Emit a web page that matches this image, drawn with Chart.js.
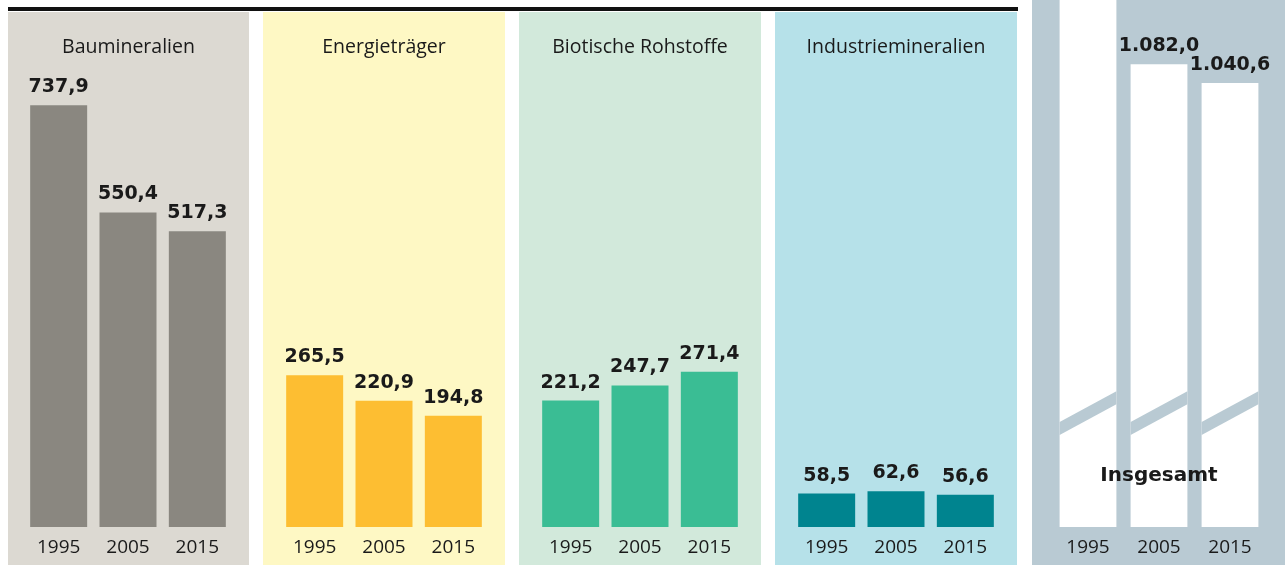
<!DOCTYPE html>
<html><head><meta charset="utf-8">
<script src="https://cdn.jsdelivr.net/npm/chart.js@4"></script>
<style>
html,body{margin:0;padding:0;background:#fff;width:1285px;height:565px;overflow:hidden;position:relative}
.bgpanel{position:absolute;bottom:0}
canvas{position:absolute;top:0}
</style></head><body>
<div style="position:absolute;left:8px;top:7px;width:1010px;height:4px;background:#111"></div>
<script>
// ---- data ----
const years = ['1995', '2005', '2015'];
const categories = ['Baumineralien', 'Energieträger', 'Biotische Rohstoffe', 'Industriemineralien', 'Insgesamt'];
const baumineralien = [737.9, 550.4, 517.3];
const energietraeger = [265.5, 220.9, 194.8];
const biotischeRohstoffe = [221.2, 247.7, 271.4];
const industriemineralien = [58.5, 62.6, 56.6];
const insgesamt = [1283.1, 1082.0, 1040.6];

// ---- layout / style ----
const panels = [
  {data: baumineralien, left: 8, width: 241, top: 12, bg: '#dcd9d2', bar: '#8a8780', padL: 16, padR: 17, min: 0, max: 922},
  {data: energietraeger, left: 263, width: 242, top: 12, bg: '#fef8c4', bar: '#fdbe32', padL: 17, padR: 17, min: 0, max: 922},
  {data: biotischeRohstoffe, left: 519, width: 242, top: 12, bg: '#d2e9db', bar: '#3abd94', padL: 17, padR: 17, min: 0, max: 922},
  {data: industriemineralien, left: 775, width: 242, top: 12, bg: '#b6e1e9', bar: '#00848f', padL: 17, padR: 17, min: 0, max: 922},
  {data: insgesamt, left: 1032, width: 253, top: 0, bg: '#b9cad3', bar: '#ffffff', padL: 20.5, padR: 19.5, min: 58, max: 1224, breakValue: 310, total: true}
];
const TEXT = '#1a1a1a';

function fmt(v) {
  const parts = v.toFixed(1).split('.');
  const intPart = parts[0].replace(/\B(?=(\d{3})+(?!\d))/g, '.');
  return intPart + ',' + parts[1];
}

const deco = {
  id: 'deco',
  afterDatasetsDraw(chart, args, opts) {
    const ctx = chart.ctx;
    const meta = chart.getDatasetMeta(0);
    const ys = chart.scales.y;
    const area = chart.chartArea;
    ctx.save();
    if (opts.breakValue != null) {
      const yc = ys.getPixelForValue(opts.breakValue);
      ctx.fillStyle = opts.bg;
      meta.data.forEach(b => {
        const w = b.width, L = b.x - w / 2, R = b.x + w / 2, rise = w * 0.54, th = 13;
        ctx.beginPath();
        ctx.moveTo(L, yc + rise / 2 - th / 2);
        ctx.lineTo(R, yc - rise / 2 - th / 2);
        ctx.lineTo(R, yc - rise / 2 + th / 2);
        ctx.lineTo(L, yc + rise / 2 + th / 2);
        ctx.closePath();
        ctx.fill();
      });
    }
    ctx.fillStyle = TEXT;
    ctx.textAlign = 'center';
    ctx.textBaseline = 'alphabetic';
    ctx.font = 'bold 19px "DejaVu Sans"';
    const vals = chart.data.datasets[0].data;
    meta.data.forEach((b, i) => {
      const y = b.y - 13;
      if (y < 18) return;
      ctx.fillText(fmt(vals[i]), b.x, y);
    });
    if (opts.total) {
      ctx.font = 'bold 20px "DejaVu Sans"';
      ctx.fillText(opts.title, (area.left + area.right) / 2, 481);
    } else {
      ctx.font = '19.5px "Open Sans"';
      ctx.fillText(opts.title, chart.width / 2, 53);
    }
    ctx.restore();
  }
};

panels.forEach((p, idx) => {
  const bg = document.createElement('div');
  bg.className = 'bgpanel';
  bg.style.left = p.left + 'px';
  bg.style.width = p.width + 'px';
  bg.style.top = p.top + 'px';
  bg.style.background = p.bg;
  document.body.appendChild(bg);

  const cv = document.createElement('canvas');
  cv.width = p.width;
  cv.height = 565;
  cv.style.left = p.left + 'px';
  cv.style.width = p.width + 'px';
  cv.style.height = '565px';
  document.body.appendChild(cv);

  new Chart(cv.getContext('2d'), {
    type: 'bar',
    data: {
      labels: years,
      datasets: [{
        data: p.data,
        backgroundColor: p.bar,
        borderWidth: 0,
        barPercentage: p.total ? 0.8 : 0.822,
        categoryPercentage: 1.0
      }]
    },
    options: {
      responsive: false,
      animation: false,
      devicePixelRatio: 1,
      layout: {padding: {left: p.padL, right: p.padR, top: 0, bottom: 0}},
      plugins: {
        legend: {display: false},
        tooltip: {enabled: false},
        title: {display: false},
        deco: {title: categories[idx], breakValue: p.breakValue, bg: p.bg, total: !!p.total}
      },
      scales: {
        x: {
          grid: {display: false, drawTicks: false},
          border: {display: false},
          ticks: {color: TEXT, font: {family: '"Open Sans"', size: 19}, padding: 9, maxRotation: 0},
          afterFit: (s) => { s.height = 38; }
        },
        y: {
          display: false,
          min: p.min,
          max: p.max
        }
      }
    },
    plugins: [deco]
  });
});
</script>
</body></html>
